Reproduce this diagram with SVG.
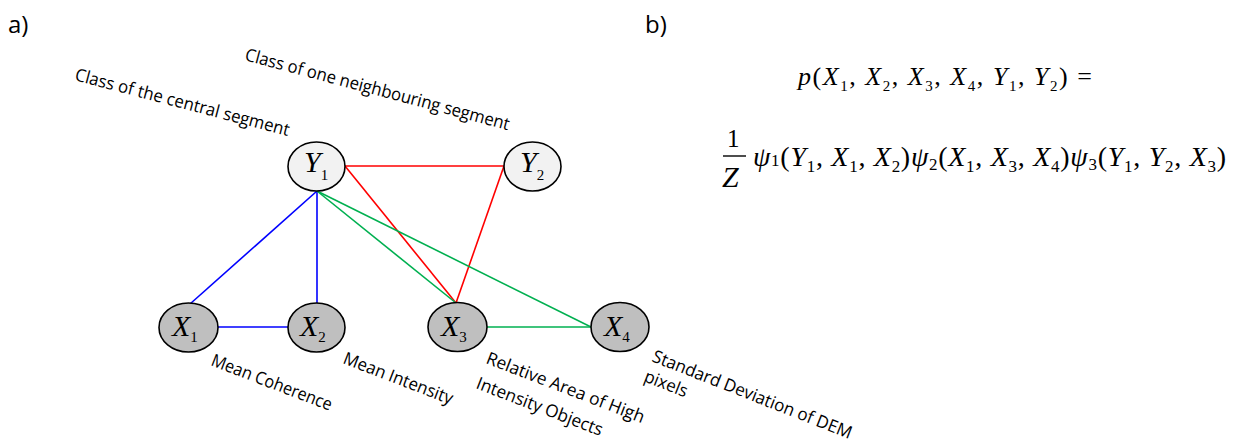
<svg xmlns="http://www.w3.org/2000/svg" width="1239" height="444" viewBox="0 0 1239 444">
<style>
.lbl{font-family:"Open Sans","Liberation Sans",sans-serif;font-size:17.5px;fill:#000}
.hdr{font-family:"Open Sans","Liberation Sans",sans-serif;font-size:24px;fill:#000}
.nodeY{fill:#f2f2f2;stroke:#000;stroke-width:1.6}
.nodeX{fill:#bfbfbf;stroke:#000;stroke-width:1.6}
.nl{font-family:"Liberation Serif","Times New Roman",serif;font-size:30px;font-style:italic;fill:#000}
.sub{font-size:15px;font-style:normal}
.math{font-family:"Liberation Serif","Times New Roman",serif;fill:#000}
.it{font-style:italic}
.blue{stroke:#0000ff;stroke-width:1.6;fill:none}
.red{stroke:#ff0000;stroke-width:1.6;fill:none}
.green{stroke:#00b050;stroke-width:1.6;fill:none}
</style>
<rect width="1239" height="444" fill="#fff"/>
<text class="hdr" x="8" y="33">a)</text>
<text class="hdr" x="645" y="33">b)</text>

<g id="connectors">
<line class="blue" x1="317" y1="191" x2="190" y2="304"/>
<line class="blue" x1="317" y1="191" x2="317" y2="303"/>
<line class="blue" x1="218" y1="327" x2="288" y2="327"/>
<line class="red" x1="345" y1="166" x2="504" y2="166"/>
<line class="red" x1="345" y1="166" x2="456" y2="303"/>
<line class="red" x1="504" y1="166" x2="456" y2="303"/>
<line class="green" x1="317" y1="191" x2="456" y2="303"/>
<line class="green" x1="317" y1="191" x2="591" y2="327"/>
<line class="green" x1="487" y1="327" x2="591" y2="327"/>
</g>

<g id="Y1">
<ellipse class="nodeY" cx="316.5" cy="166.5" rx="28.5" ry="24.5"/>
<text class="nl" x="304" y="172">Y<tspan class="sub" dy="8">1</tspan></text>
</g>
<g id="Y2">
<ellipse class="nodeY" cx="532.5" cy="166.5" rx="28.5" ry="24.5"/>
<text class="nl" x="520" y="172">Y<tspan class="sub" dy="8">2</tspan></text>
</g>
<g id="X1">
<ellipse class="nodeX" cx="188.5" cy="327.5" rx="29.5" ry="24.5"/>
<text class="nl" x="172" y="336">X<tspan class="sub" dy="6">1</tspan></text>
</g>
<g id="X2">
<ellipse class="nodeX" cx="316.5" cy="327.5" rx="28.5" ry="24.5"/>
<text class="nl" x="300" y="336">X<tspan class="sub" dy="6">2</tspan></text>
</g>
<g id="X3">
<ellipse class="nodeX" cx="457.5" cy="327" rx="29.5" ry="24.5"/>
<text class="nl" x="441" y="336">X<tspan class="sub" dy="6">3</tspan></text>
</g>
<g id="X4">
<ellipse class="nodeX" cx="620" cy="327" rx="29" ry="24.5"/>
<text class="nl" x="604" y="336">X<tspan class="sub" dy="6">4</tspan></text>
</g>

<g id="labels">
<text class="lbl" transform="translate(74,80) rotate(14.7)" textLength="221" lengthAdjust="spacingAndGlyphs">Class of the central segment</text>
<text class="lbl" transform="translate(244,60) rotate(14.9)" textLength="273" lengthAdjust="spacingAndGlyphs">Class of one neighbouring segment</text>
<text class="lbl" transform="translate(210,365) rotate(21)" textLength="128" lengthAdjust="spacingAndGlyphs">Mean Coherence</text>
<text class="lbl" transform="translate(342,363) rotate(21)" textLength="116" lengthAdjust="spacingAndGlyphs">Mean Intensity</text>
<text class="lbl" transform="translate(485,363) rotate(21)" textLength="168" lengthAdjust="spacingAndGlyphs">Relative Area of High</text>
<text class="lbl" transform="translate(475,388) rotate(21)" textLength="134" lengthAdjust="spacingAndGlyphs">Intensity Objects</text>
<text class="lbl" transform="translate(651,361) rotate(21.5)" textLength="213" lengthAdjust="spacingAndGlyphs">Standard Deviation of DEM</text>
<text class="lbl" transform="translate(643,381) rotate(21.5)" textLength="45" lengthAdjust="spacingAndGlyphs">pixels</text>
</g>

<g id="formula">
<text class="math" x="798" y="85" font-size="26" textLength="294" lengthAdjust="spacing"><tspan class="it">p</tspan>(<tspan class="it">X</tspan><tspan font-size="15" dy="6">1</tspan><tspan dy="-6">, </tspan><tspan class="it">X</tspan><tspan font-size="15" dy="6">2</tspan><tspan dy="-6">, </tspan><tspan class="it">X</tspan><tspan font-size="15" dy="6">3</tspan><tspan dy="-6">, </tspan><tspan class="it">X</tspan><tspan font-size="15" dy="6">4</tspan><tspan dy="-6">, </tspan><tspan class="it">Y</tspan><tspan font-size="15" dy="6">1</tspan><tspan dy="-6">, </tspan><tspan class="it">Y</tspan><tspan font-size="15" dy="6">2</tspan><tspan dy="-6">) =</tspan></text>
<text class="math" x="727" y="147" font-size="25">1</text>
<line x1="723" y1="156" x2="746" y2="156" stroke="#000" stroke-width="1.4"/>
<text class="math it" x="722" y="187" font-size="30">Z</text>
<text class="math" x="753" y="166" font-size="28" textLength="473" lengthAdjust="spacing"><tspan class="it">ψ</tspan><tspan font-size="17">1</tspan>(<tspan class="it">Y</tspan><tspan dy="6" font-size="17">1</tspan><tspan dy="-6">, </tspan><tspan class="it">X</tspan><tspan dy="6" font-size="17">1</tspan><tspan dy="-6">, </tspan><tspan class="it">X</tspan><tspan dy="6" font-size="17">2</tspan><tspan dy="-6">)</tspan><tspan class="it">ψ</tspan><tspan dy="4" font-size="17">2</tspan><tspan dy="-4">(</tspan><tspan class="it">X</tspan><tspan dy="6" font-size="17">1</tspan><tspan dy="-6">, </tspan><tspan class="it">X</tspan><tspan dy="6" font-size="17">3</tspan><tspan dy="-6">, </tspan><tspan class="it">X</tspan><tspan dy="6" font-size="17">4</tspan><tspan dy="-6">)</tspan><tspan class="it">ψ</tspan><tspan dy="4" font-size="17">3</tspan><tspan dy="-4">(</tspan><tspan class="it">Y</tspan><tspan dy="6" font-size="17">1</tspan><tspan dy="-6">, </tspan><tspan class="it">Y</tspan><tspan dy="6" font-size="17">2</tspan><tspan dy="-6">, </tspan><tspan class="it">X</tspan><tspan dy="6" font-size="17">3</tspan><tspan dy="-6">)</tspan></text>
</g>
</svg>
